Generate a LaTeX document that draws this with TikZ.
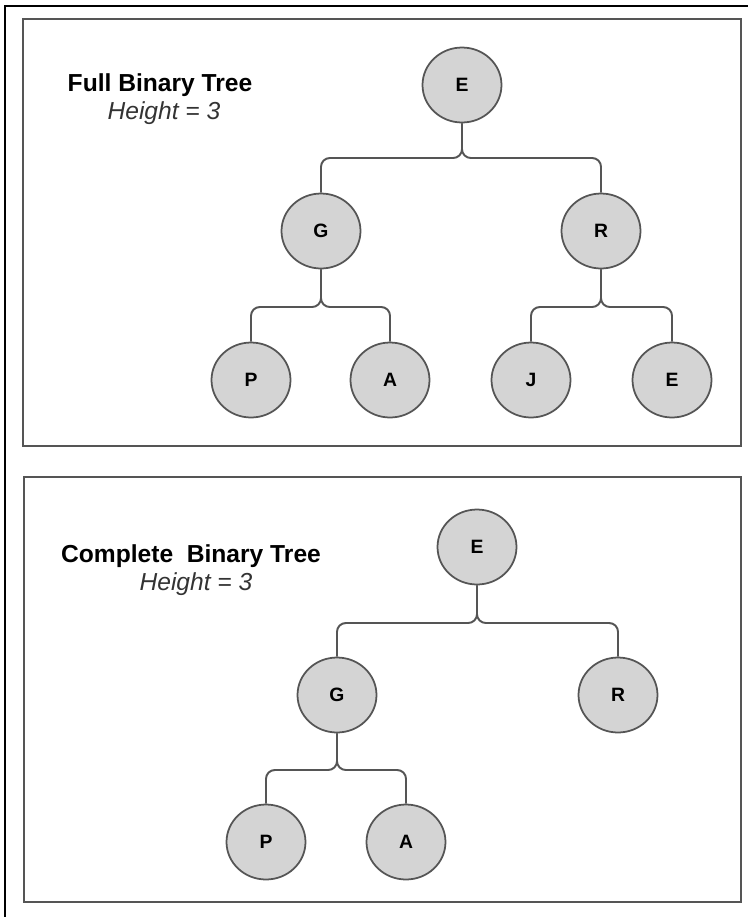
\documentclass[tikz,border=0pt]{standalone}
\usepackage{fontspec}
\setmainfont{Liberation Sans}
\usetikzlibrary{shapes.geometric}
\definecolor{nodefill}{HTML}{D4D4D4}
\definecolor{edgegray}{HTML}{555555}
\tikzset{
  treenode/.style={ellipse, draw=edgegray, line width=1pt, fill=nodefill,
    minimum width=1.58cm, minimum height=1.5cm, inner sep=0pt,
    font=\bfseries\fontsize{11}{13}\selectfont},
  link/.style={draw=edgegray, line width=1.1pt, rounded corners=5pt},
  panel/.style={draw=edgegray, line width=1.1pt},
  title/.style={font=\bfseries\fontsize{14}{16}\selectfont},
  subtitle/.style={font=\itshape\fontsize{14}{16}\selectfont, text=black!80}
}
\begin{document}
\begin{tikzpicture}[x=0.02cm, y=-0.02cm]
  \useasboundingbox (0,0) rectangle (748,917);
  % outer frame, only the left and upper edges show
  \draw[line width=1.5pt] (5,917) -- (5,6) -- (748,6);
  % the two panels
  \draw[panel] (23,19) rectangle (741,446);
  \draw[panel] (24,477) rectangle (741,902);

  % full binary tree
  \node[title] (fulltitle) at (160,85) {Full Binary Tree};
  \node[subtitle] (fullheight) at (164,113) {Height = 3};
  \node[treenode] (fE) at (462,85) {E};
  \node[treenode] (fG) at (321,231) {G};
  \node[treenode] (fR) at (601,231) {R};
  \node[treenode] (fP) at (251,380) {P};
  \node[treenode] (fA) at (390,380) {A};
  \node[treenode] (fJ) at (531,380) {J};
  \node[treenode] (fE2) at (672,380) {E};
  \draw[link] (fE.south) -- (462,158) -- (321,158) -- (fG.north);
  \draw[link] (fE.south) -- (462,158) -- (601,158) -- (fR.north);
  \draw[link] (fG.south) -- (321,307) -- (251,307) -- (fP.north);
  \draw[link] (fG.south) -- (321,307) -- (390,307) -- (fA.north);
  \draw[link] (fR.south) -- (601,307) -- (531,307) -- (fJ.north);
  \draw[link] (fR.south) -- (601,307) -- (672,307) -- (fE2.north);

  % complete binary tree
  \node[title] (comptitle) at (191,556) {Complete\ \ Binary Tree};
  \node[subtitle] (compheight) at (196,584) {Height = 3};
  \node[treenode] (cE) at (477,547) {E};
  \node[treenode] (cG) at (337,695) {G};
  \node[treenode] (cR) at (618,695) {R};
  \node[treenode] (cP) at (266,842) {P};
  \node[treenode] (cA) at (406,842) {A};
  \draw[link] (cE.south) -- (477,623) -- (337,623) -- (cG.north);
  \draw[link] (cE.south) -- (477,623) -- (618,623) -- (cR.north);
  \draw[link] (cG.south) -- (337,770) -- (266,770) -- (cP.north);
  \draw[link] (cG.south) -- (337,770) -- (406,770) -- (cA.north);
\end{tikzpicture}
\end{document}
